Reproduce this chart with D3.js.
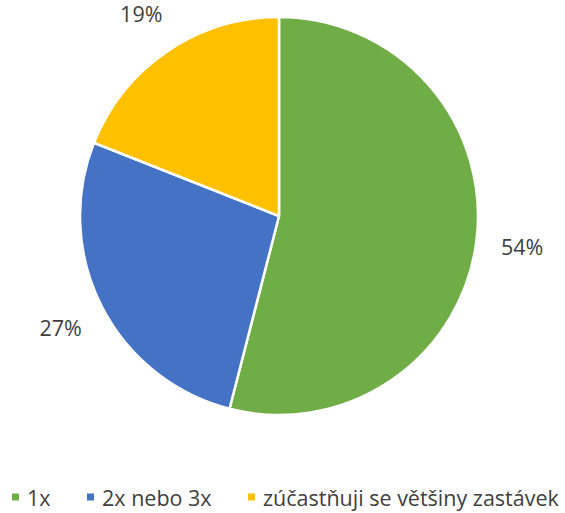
<!DOCTYPE html>
<html>
<head>
<meta charset="utf-8">
<script src="https://cdn.jsdelivr.net/npm/d3@7"></script>
<style>
  html, body { margin: 0; padding: 0; background: #fff; }
  svg { display: block; font-family: "Open Sans", "Segoe UI", sans-serif; }
</style>
</head>
<body>
<svg id="chart" width="565" height="513"></svg>
<script>
// Share of answers per category
const categories = ["1x", "2x nebo 3x", "zúčastňuji se většiny zastávek"];
const values = [54, 27, 19];
const valueLabels = ["54%", "27%", "19%"];
const colors = ["#70AD47", "#4472C4", "#FFC000"];

const svg = d3.select("#chart");
const width = 565;
const cx = 279, cy = 216, radius = 199, labelRadius = 245;

const pie = d3.pie().sort(null).value(d => d.value);
const arcs = pie(categories.map((c, i) => ({ cat: c, value: values[i], label: valueLabels[i], i })));

const arc = d3.arc().innerRadius(0).outerRadius(radius);
const g = svg.append("g").attr("transform", `translate(${cx},${cy})`);

g.selectAll("path.slice")
  .data(arcs)
  .join("path")
  .attr("class", "slice")
  .attr("d", arc)
  .attr("fill", d => colors[d.data.i])
  .attr("stroke", "#fff")
  .attr("stroke-width", 2.5)
  .attr("stroke-linejoin", "round");

// Percentage labels just outside each slice
g.selectAll("text.pct")
  .data(arcs)
  .join("text")
  .attr("class", "pct")
  .attr("x", d => Math.sin((d.startAngle + d.endAngle) / 2) * labelRadius)
  .attr("y", d => -Math.cos((d.startAngle + d.endAngle) / 2) * labelRadius)
  .attr("text-anchor", "middle")
  .attr("dominant-baseline", "central")
  .attr("font-size", 21.5)
  .attr("fill", "#404040")
  .text(d => d.data.label);

// Legend
const legendX = [12, 87, 248];
const legendY = 497;
const legend = svg.append("g");
categories.forEach((c, i) => {
  legend.append("rect")
    .attr("x", legendX[i])
    .attr("y", legendY - 3.5)
    .attr("width", 7)
    .attr("height", 7)
    .attr("fill", colors[i]);
  const t = legend.append("text")
    .attr("x", legendX[i] + 15)
    .attr("y", legendY)
    .attr("dominant-baseline", "central")
    .attr("font-size", 21.5)
    .attr("fill", "#404040")
    .text(c);
  // keep the last entry inside the right edge
  const room = width - 3 - (legendX[i] + 15);
  const len = t.node().getComputedTextLength();
  if (len > room) t.attr("font-size", 21.5 * room / len);
});
</script>
</body>
</html>
